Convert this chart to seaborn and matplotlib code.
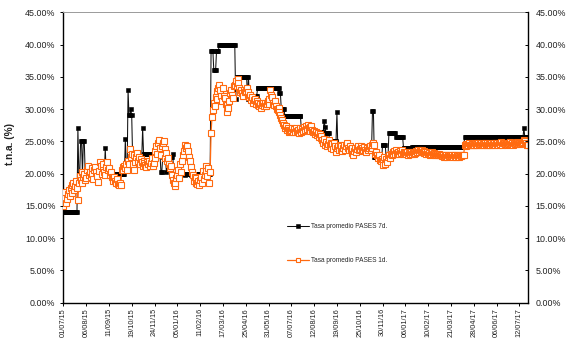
import numpy as np
import pandas as pd
import matplotlib
matplotlib.use("Agg")
import matplotlib.pyplot as plt
import seaborn as sns

# ---------------- data ----------------
tick_labels = ["01/07/15", "06/08/15", "11/09/15", "19/10/15", "24/11/15", "05/01/16",
               "11/02/16", "17/03/16", "25/04/16", "31/05/16", "07/07/16", "12/08/16",
               "19/09/16", "25/10/16", "30/11/16", "06/01/17", "10/02/17", "21/03/17",
               "28/04/17", "06/06/17", "12/07/17"]
obs_per_tick = 25

# Tasa promedio PASES 7d. (%), one row per tick interval
rate_7d = [
    16.0, 14.0, 14.0, 14.0, 14.0, 14.0, 14.0, 14.0, 14.0, 14.0, 14.0, 14.0, 14.0, 14.0, 14.0, 14.0, 27.0, 20.0, 20.0, 25.0, 25.0, 20.0, 25.0, 25.0, 20.0,
    20.0, 20.0, 20.0, 20.0, 20.0, 20.0, 20.0, 20.0, 20.0, 20.0, 20.0, 20.0, 20.0, 20.0, 20.0, 20.0, 20.0, 20.0, 20.0, 20.0, 20.0, 24.0, 20.0, 20.0, 20.0,
    20.0, 20.0, 20.0, 20.0, 20.0, 20.0, 20.0, 20.0, 20.0, 20.0, 20.0, 20.0, 20.0, 20.0, 20.0, 20.0, 20.0, 20.0, 25.3, 20.5, 20.5, 33.0, 29.0, 29.0, 30.0,
    29.0, 22.5, 22.5, 22.5, 22.5, 22.5, 22.5, 22.5, 22.5, 22.5, 22.5, 22.5, 27.0, 23.1, 23.1, 23.1, 23.1, 23.1, 23.1, 23.1, 23.1, 23.1, 23.1, 23.1, 23.1,
    23.1, 23.1, 23.1, 23.1, 23.1, 23.1, 23.1, 20.3, 20.3, 22.5, 22.5, 22.5, 22.5, 20.3, 22.5, 22.5, 22.5, 22.5, 22.5, 22.5, 23.1, 20.0, 20.0, 20.0, 20.0,
    20.0, 20.0, 19.8, 20.0, 20.0, 20.0, 20.0, 20.0, 19.8, 20.0, 20.0, 20.0, 20.0, 20.0, 20.0, 19.8, 20.0, 20.0, 20.0, 20.0, 20.0, 20.0, 20.0, 20.0, 20.0,
    20.0, 20.0, 20.0, 20.0, 20.0, 20.0, 20.0, 20.0, 20.0, 20.0, 20.0, 20.0, 39.0, 39.0, 39.0, 36.0, 36.0, 36.0, 39.0, 39.0, 39.0, 40.0, 40.0, 40.0, 40.0,
    40.0, 40.0, 40.0, 40.0, 40.0, 40.0, 40.0, 40.0, 40.0, 40.0, 40.0, 40.0, 40.0, 40.0, 31.5, 35.0, 35.0, 35.0, 35.0, 35.0, 35.0, 35.0, 35.0, 35.0, 35.0,
    35.0, 35.0, 31.5, 35.0, 32.0, 32.0, 32.0, 32.0, 32.0, 32.0, 32.0, 32.0, 32.0, 33.2, 33.2, 33.2, 33.2, 33.2, 33.2, 33.2, 33.2, 33.2, 33.2, 33.2, 33.2,
    33.2, 33.2, 33.2, 33.2, 33.2, 33.2, 33.2, 33.2, 33.2, 33.2, 33.2, 33.2, 32.5, 32.5, 30.0, 30.0, 30.0, 30.0, 28.9, 28.9, 28.9, 28.9, 28.9, 28.9, 28.9,
    28.9, 28.9, 28.9, 28.9, 28.9, 28.9, 28.9, 28.9, 28.9, 28.9, 28.9, 26.8, 26.8, 26.8, 26.8, 26.8, 26.8, 26.8, 26.8, 26.8, 26.8, 26.8, 26.8, 26.8, 26.8,
    26.5, 26.5, 26.5, 26.5, 26.5, 26.5, 26.5, 26.5, 26.5, 26.5, 26.5, 28.2, 27.2, 26.3, 26.3, 26.3, 26.3, 25.0, 25.0, 25.0, 25.0, 25.0, 25.0, 25.0, 25.0,
    29.5, 24.0, 24.1, 24.0, 23.9, 24.0, 24.0, 24.1, 24.0, 24.0, 23.9, 24.0, 24.0, 24.1, 24.0, 24.0, 24.0, 23.9, 24.0, 24.0, 24.1, 24.0, 24.0, 24.0, 24.2,
    24.0, 24.0, 24.0, 24.0, 24.0, 24.0, 24.0, 24.0, 24.0, 24.0, 24.0, 24.0, 24.0, 24.0, 29.7, 29.7, 22.5, 22.5, 22.5, 22.5, 22.5, 22.0, 22.0, 22.0, 22.0,
    24.4, 24.4, 24.4, 24.4, 22.5, 22.5, 22.5, 26.3, 26.3, 26.3, 26.3, 26.3, 26.3, 26.3, 26.3, 25.7, 25.7, 25.7, 25.7, 25.7, 25.7, 25.7, 25.7, 24.0, 24.0,
    23.9, 23.9, 23.9, 23.9, 23.9, 23.9, 23.9, 24.1, 24.1, 24.1, 24.1, 24.1, 24.1, 24.1, 24.1, 24.1, 24.1, 24.1, 24.1, 24.1, 24.1, 24.1, 24.1, 24.1, 24.1,
    24.1, 24.1, 24.1, 24.1, 24.1, 24.1, 24.1, 24.1, 24.1, 24.1, 24.1, 24.1, 24.1, 24.1, 24.1, 24.1, 24.1, 24.1, 24.1, 24.1, 24.1, 24.1, 24.1, 24.1, 24.1,
    24.1, 24.1, 24.1, 24.1, 24.1, 24.1, 24.1, 24.1, 24.1, 24.1, 24.1, 24.1, 24.1, 24.1, 24.1, 25.6, 25.6, 25.6, 25.6, 25.6, 25.6, 25.6, 25.6, 25.6, 25.6,
    25.6, 25.6, 25.6, 25.6, 25.6, 25.6, 25.6, 25.6, 25.6, 25.6, 25.6, 25.6, 25.6, 25.6, 25.6, 25.6, 25.6, 25.6, 25.6, 25.6, 25.6, 25.6, 25.6, 25.6, 25.6,
    25.6, 25.6, 25.6, 25.6, 25.6, 25.6, 25.6, 25.6, 25.6, 25.6, 25.6, 25.6, 25.6, 25.6, 25.6, 25.6, 25.6, 25.6, 25.6, 25.6, 25.6, 25.6, 25.6, 25.6, 25.6,
    25.6, 25.6, 25.6, 25.6, 25.6, 27.1, 25.6, 25.6, 25.6, 25.6,
]

# Tasa promedio PASES 1d. (%), one row per tick interval
rate_1d = [
    15.0, 16.2, 17.2, 15.5, 16.0, 16.8, 17.5, 16.5, 17.8, 18.2, 17.0, 18.5, 17.5, 18.0, 18.8, 17.8, 15.9, 18.5, 19.6, 19.0, 18.6, 20.2, 19.5, 20.0, 19.0,
    19.3, 20.5, 21.1, 19.8, 20.3, 19.5, 20.8, 20.0, 19.2, 20.5, 21.0, 20.2, 19.6, 18.7, 20.4, 21.8, 21.2, 20.0, 20.8, 21.5, 20.2, 19.8, 21.0, 21.8, 20.6,
    20.8, 19.8, 20.2, 19.5, 19.3, 18.8, 19.5, 18.9, 18.5, 19.2, 18.4, 18.2, 18.6, 18.2, 20.5, 21.0, 20.6, 21.2, 20.8, 21.4, 20.5, 22.0, 21.5, 23.8, 22.5,
    23.0, 21.5, 22.8, 20.6, 21.8, 22.5, 23.2, 21.9, 22.6, 21.5, 22.2, 21.8, 21.2, 22.0, 21.6, 21.3, 21.0, 21.8, 21.4, 22.0, 21.2, 21.6, 22.4, 21.1, 21.7,
    22.4, 23.5, 24.2, 23.0, 24.8, 25.2, 24.0, 22.9, 24.3, 24.7, 25.0, 23.8, 22.4, 23.2, 22.0, 22.4, 21.5, 20.8, 21.2, 19.8, 19.0, 18.5, 18.0, 18.6, 19.3,
    19.8, 20.6, 19.3, 21.4, 20.2, 21.9, 22.8, 23.5, 24.5, 24.0, 23.9, 24.3, 23.5, 22.6, 22.0, 21.0, 20.2, 19.8, 18.8, 19.5, 19.3, 18.6, 18.3, 18.8, 18.2,
    19.0, 19.5, 18.6, 20.4, 19.1, 19.8, 21.1, 20.4, 19.6, 20.8, 18.5, 20.2, 26.3, 28.7, 29.9, 30.9, 30.4, 31.8, 32.8, 31.5, 33.2, 33.8, 33.0, 32.0, 31.2,
    33.2, 32.0, 31.7, 30.8, 30.6, 29.6, 30.1, 31.2, 32.5, 33.0, 32.2, 31.7, 33.5, 33.8, 34.3, 33.6, 34.6, 34.0, 33.3, 32.7, 33.0, 32.5, 32.0, 33.0, 32.6,
    32.8, 33.2, 32.2, 32.6, 31.8, 32.2, 31.4, 31.8, 31.0, 31.4, 31.6, 30.8, 31.2, 30.6, 31.0, 30.4, 30.8, 30.2, 30.6, 30.9, 30.5, 31.0, 30.4, 30.8, 31.3,
    30.8, 31.5, 33.0, 32.2, 31.9, 31.0, 30.6, 31.2, 30.4, 30.0, 29.8, 30.2, 29.6, 29.0, 28.6, 28.3, 27.8, 27.5, 27.0, 27.3, 26.7, 27.0, 26.5, 26.8, 26.6,
    26.8, 27.0, 26.5, 26.9, 26.4, 27.1, 26.6, 26.8, 26.3, 26.7, 27.0, 26.5, 26.9, 26.6, 27.2, 26.8, 27.3, 26.9, 27.5, 27.0, 26.6, 27.2, 27.4, 26.8, 26.5,
    26.6, 26.2, 26.5, 26.0, 26.3, 25.7, 26.1, 25.5, 25.8, 25.2, 24.8, 25.4, 24.4, 24.9, 24.2, 24.6, 25.2, 24.4, 24.8, 24.0, 24.6, 23.8, 24.7, 24.2, 23.4,
    23.9, 24.3, 23.6, 24.4, 23.8, 24.2, 23.5, 24.0, 24.4, 23.7, 24.2, 24.7, 24.0, 23.6, 24.3, 23.8, 23.2, 23.9, 22.9, 23.5, 24.0, 23.4, 23.8, 24.2, 23.6,
    23.8, 24.2, 23.5, 24.0, 23.6, 24.1, 23.7, 23.3, 24.0, 23.6, 23.9, 24.3, 23.7, 24.0, 24.4, 24.7, 24.4, 23.1, 23.4, 22.8, 22.4, 22.9, 22.1, 21.9, 22.3,
    21.9, 21.3, 22.6, 21.5, 22.2, 21.8, 22.6, 22.9, 22.4, 23.1, 22.8, 23.3, 23.0, 23.5, 23.1, 23.6, 23.2, 23.4, 23.0, 23.5, 23.2, 23.6, 23.1, 23.4, 23.2,
    23.2, 23.0, 23.3, 22.9, 23.2, 23.0, 23.4, 23.1, 23.3, 23.0, 23.4, 23.2, 23.5, 23.3, 23.6, 23.4, 23.7, 23.5, 23.6, 23.3, 23.5, 23.2, 23.4, 23.1, 23.3,
    23.0, 23.2, 22.9, 23.1, 23.3, 23.0, 23.2, 22.9, 23.1, 22.8, 23.0, 22.9, 23.1, 22.8, 22.9, 22.7, 22.9, 22.6, 22.8, 22.7, 22.9, 22.6, 22.8, 22.7, 22.9,
    22.7, 22.9, 22.6, 22.8, 22.7, 22.9, 22.6, 22.8, 22.7, 22.6, 22.8, 22.7, 22.9, 22.8, 22.9, 24.4, 24.6, 24.3, 24.5, 24.4, 24.7, 24.5, 24.4, 24.6, 24.5,
    24.5, 24.7, 24.4, 24.6, 24.5, 24.8, 24.4, 24.6, 24.7, 24.5, 24.6, 24.4, 24.7, 24.5, 24.6, 24.8, 24.5, 24.6, 24.4, 24.7, 24.5, 24.6, 24.8, 24.5, 24.7,
    24.6, 24.8, 24.5, 24.7, 24.6, 24.9, 24.5, 24.7, 24.8, 24.6, 24.7, 24.5, 24.8, 24.6, 24.7, 24.9, 24.6, 24.8, 24.5, 24.7, 24.6, 24.8, 24.9, 24.7, 24.6,
    24.7, 24.6, 24.8, 24.7, 24.9, 25.2, 25.0, 24.7, 24.5, 24.4,
]

series_names = ["Tasa promedio PASES 7d.", "Tasa promedio PASES 1d."]
y_ticks = [0, 5, 10, 15, 20, 25, 30, 35, 40, 45]

# ---------------- style ----------------
sns.set_theme(style="white")
plt.rcParams["font.family"] = ["Liberation Sans", "DejaVu Sans"]
ORANGE = "#FF6A10"

W, H = 579, 347
fig = plt.figure(figsize=(W / 100, H / 100), dpi=100)
left_px, right_px, top_px, bottom_px = 63.3, 528.0, 12.3, 302.5
ax = fig.add_axes([left_px / W, 1 - bottom_px / H, (right_px - left_px) / W, (bottom_px - top_px) / H])

df7 = pd.DataFrame({"obs": np.arange(len(rate_7d)), "tna": rate_7d})
df1 = pd.DataFrame({"obs": np.arange(len(rate_1d)), "tna": rate_1d})

sns.lineplot(data=df7, x="obs", y="tna", ax=ax, color="#111111", linewidth=0.75,
             marker="s", markersize=2.9, markerfacecolor="black", markeredgecolor="black",
             markeredgewidth=0.4, label=series_names[0], zorder=2)
sns.lineplot(data=df1, x="obs", y="tna", ax=ax, color=ORANGE, linewidth=0.9,
             marker="s", markersize=4.8, markerfacecolor="white", markeredgecolor=ORANGE,
             markeredgewidth=0.8, label=series_names[1], zorder=3)

n = max(len(rate_7d), len(rate_1d))
ax.set_xlim(0, n - 0.5)
ax.set_ylim(0, 45)
ax.grid(False)

ax.set_xticks([i * obs_per_tick for i in range(len(tick_labels))])
ax.set_xticklabels(tick_labels, rotation=90, fontsize=5.3, color="#222222")
ax.set_yticks(y_ticks)
ax.set_yticklabels([f"{v:.2f}%" for v in y_ticks], fontsize=6.4, color="#222222")
ax.tick_params(axis="x", direction="out", length=2.5, width=0.7, pad=1.5, bottom=True, color="black")
ax.tick_params(axis="y", direction="out", length=2.2, width=0.7, pad=3.5, left=True, color="black")
ax.set_xlabel("")
ax.set_ylabel("t.n.a. (%)", fontsize=7.3, fontweight="bold", color="#222222")
ax.yaxis.set_label_coords((15.5 - left_px) / (right_px - left_px), 0.547)

for s in ["left", "bottom"]:
    ax.spines[s].set_color("black")
    ax.spines[s].set_linewidth(1.0)
ax.spines["right"].set_visible(False)
ax.spines["top"].set_color("#9a9a9a")
ax.spines["top"].set_linewidth(0.7)

ax2 = ax.twinx()
ax2.set_ylim(0, 45)
ax2.set_yticks(y_ticks)
ax2.set_yticklabels([f"{v:.2f}%" for v in y_ticks], fontsize=6.4, color="#222222")
ax2.tick_params(axis="y", direction="in", length=2.2, width=0.7, pad=5.5, right=True, color="black")
ax2.grid(False)
for s in ["left", "bottom", "top"]:
    ax2.spines[s].set_visible(False)
ax2.spines["right"].set_color("black")
ax2.spines["right"].set_linewidth(1.0)

ax.legend(loc="center left", bbox_to_anchor=((287 - left_px) / (right_px - left_px), (bottom_px - 243.5) / (bottom_px - top_px)),
          frameon=False, fontsize=4.7, labelspacing=4.2, handlelength=3.3, handletextpad=0.45,
          borderpad=0, borderaxespad=0, markerscale=0.75)

fig.savefig("out.png", dpi=100)
